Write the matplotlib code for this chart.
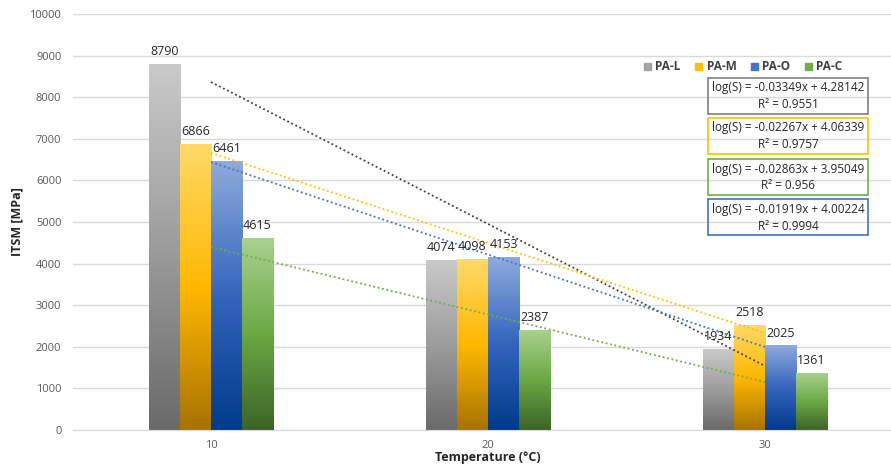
import numpy as np
import matplotlib
matplotlib.use('Agg')
import matplotlib.pyplot as plt
from matplotlib.colors import LinearSegmentedColormap
from matplotlib.patches import Rectangle, Patch

plt.rcParams['font.family'] = ['Open Sans', 'DejaVu Sans']

# ITSM results per mix at each test temperature
temps = ['10', '20', '30']
series = ['PA-L', 'PA-M', 'PA-O', 'PA-C']
itsm = [
    [8790, 4074, 1934],   # PA-L
    [6866, 4098, 2518],   # PA-M
    [6461, 4153, 2025],   # PA-O
    [4615, 2387, 1361],   # PA-C
]
# dotted trend lines, value at 10 °C and at 30 °C
trend_start = [8365, 6659, 6440, 4400]
trend_end = [1540, 2330, 1995, 1155]
# fitted equations, same order as series
equations = [
    ('log(S) = -0.03349x + 4.28142', 'R² = 0.9551'),
    ('log(S) = -0.02267x + 4.06339', 'R² = 0.9757'),
    ('log(S) = -0.01919x + 4.00224', 'R² = 0.9994'),
    ('log(S) = -0.02863x + 3.95049', 'R² = 0.956'),
]
eq_order = [0, 1, 3, 2]   # boxes stacked L, M, C, O

# top / middle / bottom colours of each bar gradient
grad = [
    ['#cacaca', '#9c9c9c', '#6a6a6a'],
    ['#ffd968', '#ffb800', '#a87200'],
    ['#8eaadc', '#3465bd', '#003b8a'],
    ['#a9d18e', '#6aa844', '#3c6428'],
]
legend_col = ['#a5a5a5', '#ffc000', '#4472c4', '#70ad47']
trend_col = ['#404040', '#ffc000', '#4472c4', '#70ad47']
box_col = ['#7f7f7f', '#ffc000', '#70ad47', '#4472c4']

W, H = 891, 468
fig = plt.figure(figsize=(W / 100, H / 100), dpi=100)
ax = fig.add_axes([72.5 / W, 38 / H, 831 / W, 416 / H])

x = np.arange(len(temps))
bw = 0.112
for i, vals in enumerate(itsm):
    cmap = LinearSegmentedColormap.from_list(series[i], grad[i][::-1])
    g = np.linspace(0, 1, 256).reshape(-1, 1)
    for j, v in enumerate(vals):
        x0 = x[j] + (i - 2) * bw
        ax.imshow(g, cmap=cmap, origin='lower', aspect='auto',
                  extent=[x0, x0 + bw, 0, v], zorder=2, interpolation='bilinear')
        ax.text(x0 + bw / 2, v + 150, str(v), ha='center', va='bottom',
                fontsize=9, color='#262626', zorder=4)

for i in range(len(series)):
    ax.plot([x[0], x[-1]], [trend_start[i], trend_end[i]], ls=(0, (1, 1.5)),
            lw=1.3, color=trend_col[i], zorder=3)

ax.set_xlim(-0.5, 2.5)
ax.set_ylim(0, 10000)
ax.set_yticks(np.arange(0, 10001, 1000))
ax.set_xticks(x)
ax.set_xticklabels(temps)
ax.grid(axis='y', color='#d9d9d9', lw=1, zorder=0)
ax.set_axisbelow(True)
for s in ['top', 'right', 'left']:
    ax.spines[s].set_visible(False)
ax.spines['bottom'].set_color('#d9d9d9')
ax.tick_params(length=0, labelsize=8, colors='#595959', pad=8)
ax.tick_params(axis='x', pad=7)

fig.text(488 / W, 1 - 458 / H, 'Temperature (°C)', ha='center', va='center',
         fontsize=9, fontweight='bold', color='#262626')
fig.text(17 / W, 1 - 222 / H, 'ITSM [MPa]', ha='center', va='center',
         rotation=90, fontsize=9, fontweight='bold', color='#262626')

handles = [Patch(color=c) for c in legend_col]
fig.legend(handles, series, loc='center', bbox_to_anchor=(743 / W, 1 - 67 / H),
           ncol=4, frameon=False, handlelength=0.6, handleheight=0.6,
           handletextpad=0.4, columnspacing=1.2,
           prop={'size': 8.5, 'weight': 'bold'}, labelcolor='#404040')

box_tops = [78, 118, 159, 199]
for k, idx in enumerate(eq_order):
    top = box_tops[k]
    fig.patches.append(Rectangle((708 / W, 1 - (top + 36) / H), 160 / W, 36 / H,
                                 transform=fig.transFigure, fill=False,
                                 edgecolor=box_col[k], lw=1.2))
    eq, r2 = equations[idx]
    fig.text(788 / W, 1 - (top + 10) / H, eq, ha='center', va='center',
             fontsize=8.5, color='#262626')
    fig.text(788 / W, 1 - (top + 27) / H, r2, ha='center', va='center',
             fontsize=8.5, color='#262626')

fig.savefig('out.png', dpi=100)
